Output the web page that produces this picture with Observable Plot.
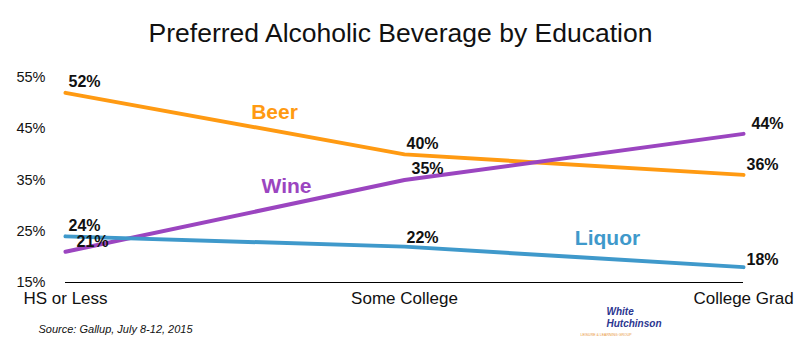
<!DOCTYPE html>
<html><head><meta charset="utf-8">
<script src="https://cdn.jsdelivr.net/npm/d3@7"></script>
<script src="https://cdn.jsdelivr.net/npm/@observablehq/plot@0.6"></script>
<style>body{margin:0;background:#fff;} svg{display:block;}</style>
</head><body><div id="chart"></div>
<script>
const categories = ["HS or Less", "Some College", "College Grad"];
const seriesNames = ["Beer", "Wine", "Liquor"];
const beer = [52, 40, 36];
const wine = [21, 35, 44];
const liquor = [24, 22, 18];
const yTicks = [15, 25, 35, 45, 55];
const seriesColors = ["#FF9A12", "#9B45C0", "#3F99CB"];

const valuesBySeries = [beer, wine, liquor];
const data = seriesNames.flatMap((s, k) => valuesBySeries[k].map((v, i) => ({series: s, cat: categories[i], value: v, col: i})));
const colorOf = Object.fromEntries(seriesNames.map((s, k) => [s, seriesColors[k]]));
const font = "'Liberation Sans', Arial, Helvetica, sans-serif";
// value-label nudges (pixels) per series, per column
const labelDx = {Beer: [19, 18, 19], Wine: [27, 23, 24], Liquor: [19, 18, 19]};
const labelDy = {Beer: [-11, -11, -10], Wine: [-10, -11, -10], Liquor: [-11, -9, -7]};

const seriesLabelPos = {Beer: [209, 35], Wine: [221, 109], Liquor: [542, 161]};
const note = (txt, anchor, dx, dy, opts) => Plot.text([txt], {frameAnchor: anchor, text: d => d, dx, dy, lineAnchor: "middle", ...opts});
const logoFont = "'Liberation Sans', Arial, sans-serif";

const chart = Plot.plot({
  width: 800,
  height: 354,
  marginTop: 77,
  marginBottom: 72,
  marginLeft: 65,
  marginRight: 57,
  style: {fontFamily: font, background: "#fff", overflow: "visible"},
  x: {type: "point", domain: categories, padding: 0, label: null},
  y: {domain: [15, 55], label: null},
  color: {domain: seriesNames, range: seriesColors},
  marks: [
    Plot.axisY({ticks: yTicks, tickFormat: d => d + "%", tickSize: 0, tickPadding: 20, fontSize: 14.5, label: null, fill: "#111"}),
    Plot.axisX({tickSize: 0, tickPadding: 9, fontSize: 17, label: null, fill: "#111"}),
    Plot.ruleY([15], {stroke: "#000", strokeWidth: 1}),
    Plot.line(data, {x: "cat", y: "value", z: "series", stroke: "series", strokeWidth: 4}),
    ...seriesNames.flatMap(s => categories.map((c, i) => Plot.text(data.filter(d => d.series === s && d.col === i),
      {x: "cat", y: "value", text: d => d.value + "%", dx: labelDx[s][i], dy: labelDy[s][i], fontSize: 16, fontWeight: "bold", fill: "#111"}))),
    ...seriesNames.map(s => note(s, "top-left", seriesLabelPos[s][0], seriesLabelPos[s][1],
      {fill: colorOf[s], fontSize: 21, fontWeight: "bold", textAnchor: "middle"})),
    note("Preferred Alcoholic Beverage by Education", "top", -4, -44, {fontSize: 26.5, fill: "#111"}),
    note("Source: Gallup, July 8-12, 2015", "bottom-left", -27, 47, {fontSize: 11, fontStyle: "italic", textAnchor: "start", fill: "#111"}),
    note("White", "bottom-right", -137, 29, {fontSize: 10, fontStyle: "italic", fontWeight: "bold", fill: "#2b3590", textAnchor: "start", fontFamily: logoFont, letterSpacing: -0.4}),
    note("Hutchinson", "bottom-right", -137, 41, {fontSize: 10, fontStyle: "italic", fontWeight: "bold", fill: "#2b3590", textAnchor: "start", fontFamily: logoFont, letterSpacing: -0.6}),
    note("LEISURE & LEARNING GROUP", "bottom-right", -112, 52, {fontSize: 3.5, fill: "#e8963a"})
  ]
});
document.getElementById("chart").append(chart);
</script>
</body></html>
